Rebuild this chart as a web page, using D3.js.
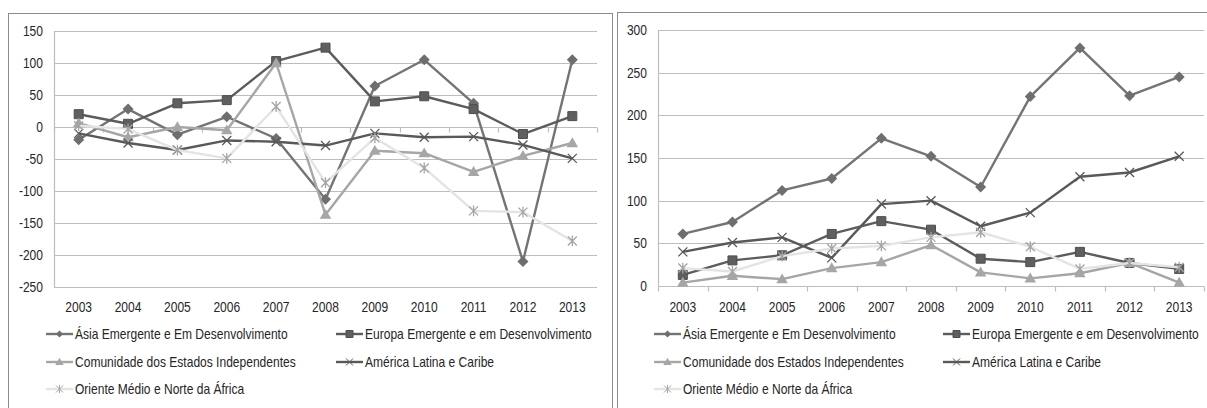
<!DOCTYPE html>
<html>
<head>
<meta charset="utf-8">
<style>
  body { margin: 0; background: #fff; }
  svg { display: block; font-family: "Liberation Sans", Arial, sans-serif; }
</style>
</head>
<body>
<svg id="chart"></svg>
<script src="https://d3js.org/d3.v7.min.js"></script>
<script>
const years = ["2003", "2004", "2005", "2006", "2007", "2008", "2009", "2010", "2011", "2012", "2013"];

const seriesNames = [
  "Ásia Emergente e Em Desenvolvimento",
  "Europa Emergente e em Desenvolvimento",
  "Comunidade dos Estados Independentes",
  "América Latina e Caribe",
  "Oriente Médio e Norte da África"
];

// left chart
const leftAsia     = [-20, 28, -12, 16, -18, -113, 64, 105, 37, -210, 105];
const leftEuropa   = [20, 5, 37, 42, 103, 124, 40, 48, 28, -11, 17];
const leftCEI      = [6, -16, 0, -5, 100, -137, -37, -41, -70, -45, -25];
const leftAmerica  = [-10, -25, -36, -21, -23, -29, -10, -16, -15, -28, -49];
const leftOriente  = [2, -3, -36, -49, 32, -87, -17, -64, -131, -133, -178];
const leftTicks    = [150, 100, 50, 0, -50, -100, -150, -200, -250];

// right chart
const rightAsia    = [61, 75, 112, 126, 173, 152, 116, 222, 279, 223, 245];
const rightEuropa  = [13, 30, 36, 61, 76, 66, 32, 28, 40, 27, 20];
const rightCEI     = [4, 12, 8, 21, 28, 48, 16, 9, 15, 27, 4];
const rightAmerica = [40, 51, 57, 33, 96, 100, 70, 86, 128, 133, 152];
const rightOriente = [21, 17, 35, 44, 47, 57, 63, 46, 20, 27, 22];
const rightTicks   = [300, 250, 200, 150, 100, 50, 0];

const W = 1207, H = 408;
const FS = 14;       // font size
const SX = 0.86;     // horizontal squeeze, to get a narrow face like the original
const svg = d3.select("#chart").attr("width", W).attr("height", H);

// text helper: squeezed horizontally, still real text
function label(g, x, y, txt, anchor) {
  return g.append("text")
    .attr("transform", "translate(" + x + "," + y + ") scale(" + SX + ",1)")
    .attr("dy", "0.35em")
    .attr("text-anchor", anchor || "start")
    .attr("font-size", FS).attr("fill", "#262626")
    .text(txt);
}

// marker shapes
const xMark = { draw(ctx, s) { const r = s; ctx.moveTo(-r, -r); ctx.lineTo(r, r); ctx.moveTo(-r, r); ctx.lineTo(r, -r); } };
const starMark = { draw(ctx, s) { const r = s; ctx.moveTo(-r, -r); ctx.lineTo(r, r); ctx.moveTo(-r, r); ctx.lineTo(r, -r); ctx.moveTo(0, -r * 1.2); ctx.lineTo(0, r * 1.2); } };
const diamondMark = { draw(ctx, s) { ctx.moveTo(0, -s); ctx.lineTo(s, 0); ctx.lineTo(0, s); ctx.lineTo(-s, 0); ctx.closePath(); } };
const squareMark = { draw(ctx, s) { ctx.rect(-s, -s, 2 * s, 2 * s); } };
const triMark = { draw(ctx, s) { ctx.moveTo(0, -s * 1.05); ctx.lineTo(s * 1.05, s * 0.75); ctx.lineTo(-s * 1.05, s * 0.75); ctx.closePath(); } };

const styles = [
  { line: "#747474", mark: diamondMark, fill: "#6e6e6e", stroke: "none", size: 5.5, lsize: 3.5 },
  { line: "#5c5c5c", mark: squareMark, fill: "#5f5f5f", stroke: "#4f4f4f", size: 4.5, lsize: 3.5 },
  { line: "#a6a6a6", mark: triMark, fill: "#a6a6a6", stroke: "none", size: 5.5, lsize: 4 },
  { line: "#595959", mark: xMark, fill: "none", stroke: "#595959", size: 4.5, lsize: 3.5 },
  { line: "#e4e4e4", mark: starMark, fill: "none", stroke: "#a4a4a4", size: 4.5, lsize: 3.5 }
];

function drawChart(cfg) {
  const g = svg.append("g");

  // outer border
  g.append("rect")
    .attr("x", cfg.box[0] + 0.5).attr("y", cfg.box[1] + 0.5)
    .attr("width", cfg.box[2]).attr("height", cfg.box[3])
    .attr("fill", "none").attr("stroke", "#8a8a8a").attr("stroke-width", 1);

  const x = d3.scaleBand().domain(years).range([cfg.x0, cfg.x1]).padding(0);
  const y = d3.scaleLinear().domain(cfg.domain).range([cfg.y1, cfg.y0]);
  const cx = d => x(d) + x.bandwidth() / 2;

  // gridlines
  g.selectAll(".grid").data(cfg.ticks).enter().append("line")
    .attr("x1", cfg.x0).attr("x2", cfg.x1)
    .attr("y1", d => Math.round(y(d)) + 0.5).attr("y2", d => Math.round(y(d)) + 0.5)
    .attr("stroke", "#bdbdbd").attr("stroke-width", 1.2);

  // y axis line
  g.append("line")
    .attr("x1", cfg.x0 + 0.5).attr("x2", cfg.x0 + 0.5)
    .attr("y1", cfg.y0).attr("y2", cfg.y1)
    .attr("stroke", "#bdbdbd").attr("stroke-width", 1.2);

  // y labels
  cfg.ticks.forEach(d => label(g, cfg.x0 - 11, y(d), d, "end"));

  // category tick marks on the zero line
  const yAxis = Math.round(y(0)) + 0.5;
  const bounds = years.map(d => x(d)).concat([cfg.x1]);
  g.selectAll(".xtick").data(bounds).enter().append("line")
    .attr("x1", d => Math.round(d) + 0.5).attr("x2", d => Math.round(d) + 0.5)
    .attr("y1", yAxis).attr("y2", yAxis + 5)
    .attr("stroke", "#bdbdbd").attr("stroke-width", 1.2);

  // x labels
  years.forEach(d => label(g, cx(d), cfg.xlabY, d, "middle"));

  const line = d3.line().x((d, i) => cx(years[i])).y(d => y(d));

  cfg.series.forEach((vals, si) => {
    const st = styles[si];
    g.append("path").datum(vals)
      .attr("d", line).attr("fill", "none")
      .attr("stroke", st.line).attr("stroke-width", 2.4).attr("stroke-linejoin", "round");
    g.selectAll(".m" + si).data(vals).enter().append("path")
      .attr("transform", (d, i) => "translate(" + cx(years[i]) + "," + y(d) + ")")
      .attr("d", d3.symbol().type(st.mark).size(st.size))
      .attr("fill", st.fill).attr("stroke", st.stroke).attr("stroke-width", st.fill === "none" ? 1.3 : 1);
  });

  // legend
  const rows = [cfg.legRows[0], cfg.legRows[0], cfg.legRows[1], cfg.legRows[1], cfg.legRows[2]];
  const cols = [cfg.legCols[0], cfg.legCols[1], cfg.legCols[0], cfg.legCols[1], cfg.legCols[0]];
  seriesNames.forEach((name, si) => {
    const st = styles[si];
    const lx = cols[si], ly = rows[si];
    g.append("line")
      .attr("x1", lx).attr("x2", lx + 27).attr("y1", ly).attr("y2", ly)
      .attr("stroke", st.line).attr("stroke-width", 2.4);
    g.append("path")
      .attr("transform", "translate(" + (lx + 13.5) + "," + ly + ")")
      .attr("d", d3.symbol().type(st.mark).size(st.lsize))
      .attr("fill", st.fill).attr("stroke", st.stroke).attr("stroke-width", 1);
    label(g, lx + 29, ly, name, "start");
  });
}

drawChart({
  box: [8, 13, 604, 400],
  x0: 54, x1: 597, y0: 31, y1: 287,
  domain: [-250, 150], ticks: leftTicks,
  xlabY: 307,
  series: [leftAsia, leftEuropa, leftCEI, leftAmerica, leftOriente],
  legCols: [46, 336], legRows: [334, 362, 389]
});

drawChart({
  box: [617, 12, 600, 400],
  x0: 658, x1: 1204, y0: 30, y1: 286,
  domain: [0, 300], ticks: rightTicks,
  xlabY: 307,
  series: [rightAsia, rightEuropa, rightCEI, rightAmerica, rightOriente],
  legCols: [654, 943], legRows: [334, 362, 389]
});
</script>
</body>
</html>
